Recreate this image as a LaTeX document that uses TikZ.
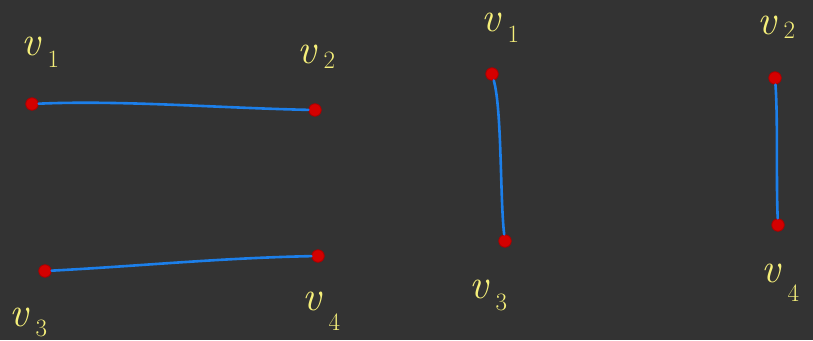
\documentclass[tikz,border=0pt]{standalone}
\usepackage{fontspec}
\usetikzlibrary{positioning}
\definecolor{board}{HTML}{333333}
\definecolor{chalk}{HTML}{F6F07A}
\definecolor{pen}{HTML}{1C7FEA}
\definecolor{dot}{HTML}{D40000}
\newcommand{\vname}[2]{\textit{v}\hspace{6pt}\raisebox{-#2}{\fontsize{25}{28}\selectfont #1}}

\begin{document}
\begin{tikzpicture}[
    x=1pt, y=-1pt,
    vertex/.style={circle, fill=dot, draw=dot!80!black, thick, inner sep=0pt, minimum size=12.5pt},
    vlabel/.style={text=chalk, inner sep=0pt, anchor=base west, font=\fontsize{42}{46}\selectfont},
    edge/.style={draw=pen, line width=2.6pt, line cap=round}
]
\fill[board] (0,0) rectangle (813,340);
\useasboundingbox (0,0) rectangle (813,340);

\node[vertex] (a1) at (32,104) {};
\node[vertex] (a2) at (315,110) {};
\node[vertex] (a3) at (45,271) {};
\node[vertex] (a4) at (318,256) {};
\node[vlabel] (la1) at (21,55) {\vname{1}{12pt}};
\node[vlabel] (la2) at (297,63) {\vname{2}{5pt}};
\node[vlabel] (la3) at (9,326) {\vname{3}{10pt}};
\node[vlabel] (la4) at (302,310) {\vname{4}{20pt}};

\node[vertex] (b1) at (492,74) {};
\node[vertex] (b3) at (505,241) {};
\node[vertex] (b2) at (775,78) {};
\node[vertex] (b4) at (778,225) {};
\node[vlabel] (lb1) at (481,31) {\vname{1}{11pt}};
\node[vlabel] (lb3) at (469,298) {\vname{3}{12pt}};
\node[vlabel] (lb2) at (757,34) {\vname{2}{5pt}};
\node[vlabel] (lb4) at (761,282) {\vname{4}{19pt}};

\draw[edge] (a1) .. controls (120,100) and (220,108) .. (a2);
\draw[edge] (a3) .. controls (140,266) and (220,258) .. (a4);
\draw[edge] (b1) .. controls (502,110) and (500,200) .. (b3);
\draw[edge] (b2) .. controls (778,120) and (776,180) .. (b4);
\end{tikzpicture}
\end{document}
